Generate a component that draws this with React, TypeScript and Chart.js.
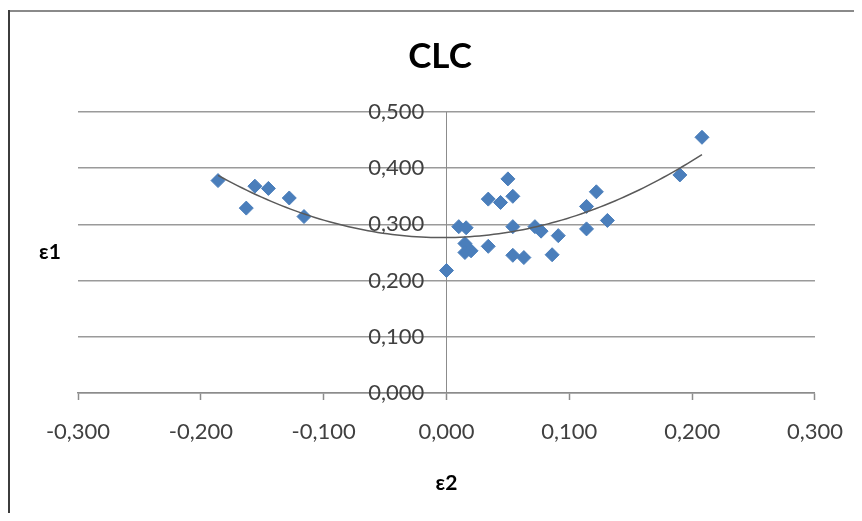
import React, { useEffect, useRef } from "react";
import { Chart, registerables } from "chart.js";

Chart.register(...registerables);

const chartTitle = "CLC";
const xAxisTitle = "ε2";
const yAxisTitle = "ε1";

// ε2 (x) and ε1 (y) values
const e2Values = [
  -0.186, -0.163, -0.156, -0.145, -0.128, -0.116,
  0.0, 0.01, 0.016, 0.015, 0.015, 0.02, 0.034, 0.034, 0.044, 0.05,
  0.054, 0.054, 0.054, 0.063, 0.072, 0.077, 0.086, 0.091, 0.114, 0.114,
  0.122, 0.131, 0.19, 0.208,
];
const e1Values = [
  0.378, 0.329, 0.368, 0.364, 0.347, 0.314,
  0.218, 0.296, 0.294, 0.266, 0.25, 0.253, 0.261, 0.345, 0.339, 0.381,
  0.35, 0.296, 0.245, 0.241, 0.296, 0.288, 0.246, 0.28, 0.332, 0.292,
  0.358, 0.307, 0.388, 0.455,
];

const xMin = -0.3;
const xMax = 0.3;
const xStep = 0.1;
const yMin = 0;
const yMax = 0.5;
const yStep = 0.1;
// the vertical axis crosses the horizontal one at ε2 = 0
const yAxisCrossing = 0;
// its labels sit a little to the left of that line
const yLabelAnchor = -0.018;

// Polynomial (order 2) least-squares trendline, as Excel would compute
function fitQuadratic(xs: number[], ys: number[]) {
  const s = [0, 0, 0, 0, 0];
  const t = [0, 0, 0];
  for (let i = 0; i < xs.length; i++) {
    let p = 1;
    for (let k = 0; k < 5; k++) {
      s[k] += p;
      if (k < 3) t[k] += p * ys[i];
      p *= xs[i];
    }
  }
  const m = [
    [s[0], s[1], s[2], t[0]],
    [s[1], s[2], s[3], t[1]],
    [s[2], s[3], s[4], t[2]],
  ];
  for (let c = 0; c < 3; c++) {
    let piv = c;
    for (let r = c + 1; r < 3; r++) if (Math.abs(m[r][c]) > Math.abs(m[piv][c])) piv = r;
    [m[c], m[piv]] = [m[piv], m[c]];
    for (let r = 0; r < 3; r++) {
      if (r === c) continue;
      const f = m[r][c] / m[c][c];
      for (let k = c; k < 4; k++) m[r][k] -= f * m[c][k];
    }
  }
  return [m[0][3] / m[0][0], m[1][3] / m[1][1], m[2][3] / m[2][2]];
}

function fmt(v: number) {
  const n = Math.abs(v) < 1e-9 ? 0 : v;
  return n.toFixed(3).replace(".", ",");
}

const FONT = 'Lato, "Noto Sans", "DejaVu Sans", sans-serif';

export default function App() {
  const ref = useRef<HTMLCanvasElement | null>(null);

  useEffect(() => {
    if (!ref.current) return;
    const [c0, c1, c2] = fitQuadratic(e2Values, e1Values);
    const lo = Math.min(...e2Values);
    const hi = Math.max(...e2Values);
    const trend: { x: number; y: number }[] = [];
    const n = 100;
    for (let i = 0; i <= n; i++) {
      const x = lo + ((hi - lo) * i) / n;
      trend.push({ x, y: c0 + c1 * x + c2 * x * x });
    }
    const points = e2Values.map((x, i) => ({ x, y: e1Values[i] }));

    const decor = {
      id: "decor",
      beforeDraw(chart: any) {
        const ctx = chart.ctx;
        ctx.save();
        ctx.fillStyle = "#ffffff";
        ctx.fillRect(0, 0, chart.width, chart.height);
        ctx.strokeStyle = "#8a8a8a";
        ctx.lineWidth = 2;
        ctx.beginPath();
        ctx.moveTo(0, 3);
        ctx.lineTo(chart.width, 3);
        ctx.stroke();
        ctx.strokeStyle = "#3c3c3c";
        ctx.beginPath();
        ctx.moveTo(1, 2);
        ctx.lineTo(1, chart.height);
        ctx.stroke();
        ctx.restore();
      },
      afterDraw(chart: any) {
        const ctx = chart.ctx;
        ctx.save();
        ctx.fillStyle = "#000000";
        ctx.textAlign = "center";
        ctx.textBaseline = "middle";
        ctx.font = `bold 35px ${FONT}`;
        ctx.fillText(chartTitle, 432, 49);
        ctx.font = `bold 21px ${FONT}`;
        ctx.fillText(yAxisTitle, 42, 244);
        ctx.restore();
      },
    };

    const tickFont = { family: FONT, size: 22 };

    const chart = new Chart(ref.current, {
      type: "scatter",
      data: {
        datasets: [
          {
            type: "line",
            data: trend,
            borderColor: "#5a5a5a",
            borderWidth: 1.5,
            pointRadius: 0,
            fill: false,
            tension: 0,
          } as any,
          {
            data: points,
            pointStyle: "rectRot",
            pointRadius: 7,
            backgroundColor: "#4a7ebb",
            borderColor: "#4a7ebb",
            borderWidth: 1,
          },
        ],
      },
      plugins: [decor],
      options: {
        animation: false,
        responsive: false,
        devicePixelRatio: 1,
        layout: { padding: { left: 70, right: 36, top: 104, bottom: 0 } },
        plugins: {
          legend: { display: false },
          tooltip: { enabled: false },
          title: { display: false },
        },
        scales: {
          x: {
            type: "linear",
            position: "bottom",
            min: xMin,
            max: xMax,
            ticks: {
              stepSize: xStep,
              padding: 19,
              color: "#404040",
              font: tickFont,
              callback: (v: any) => fmt(Number(v)),
            },
            grid: {
              display: true,
              drawOnChartArea: false,
              drawTicks: true,
              tickLength: 7,
              tickColor: "#8c8c8c",
              tickWidth: 1.5,
            },
            border: { display: true, color: "#8c8c8c", width: 1.5 },
            title: {
              display: true,
              text: xAxisTitle,
              color: "#000000",
              font: { family: FONT, size: 21, weight: "bold" },
              padding: { top: 6, bottom: 17.4 },
            },
          },
          y: {
            type: "linear",
            position: { x: yAxisCrossing } as any,
            min: yMin,
            max: yMax,
            ticks: { stepSize: yStep, display: false },
            grid: {
              display: true,
              drawTicks: false,
              color: "#9a9a9a",
              lineWidth: 1.5,
            },
            border: { display: true, color: "#8c8c8c", width: 1 },
          },
          yLabels: {
            type: "linear",
            axis: "y",
            position: { x: yLabelAnchor } as any,
            min: yMin,
            max: yMax,
            ticks: {
              stepSize: yStep,
              color: "#404040",
              font: tickFont,
              callback: (v: any) => fmt(Number(v)),
            },
            grid: { display: false, drawTicks: false },
            border: { display: false },
          } as any,
        },
      },
    });
    return () => chart.destroy();
  }, []);

  return (
    <div style={{ width: 854, height: 505 }}>
      <canvas ref={ref} width={854} height={505} style={{ display: "block" }} />
    </div>
  );
}
